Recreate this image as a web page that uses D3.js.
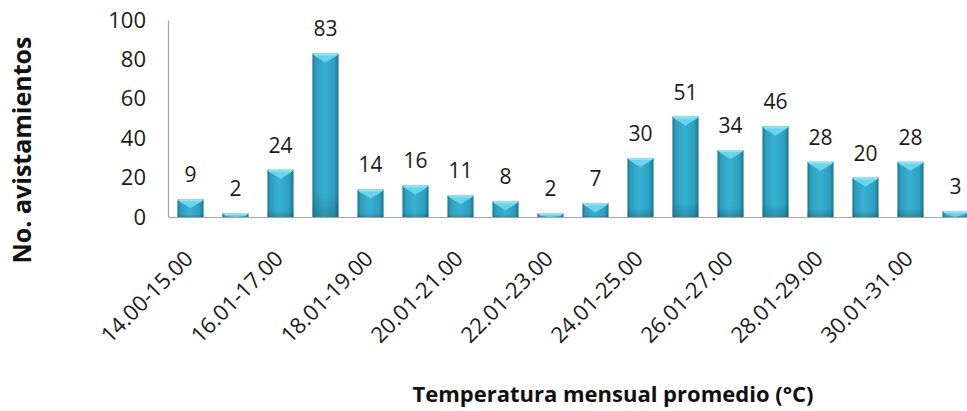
<!DOCTYPE html>
<html>
<head>
<meta charset="utf-8">
<script src="https://cdn.jsdelivr.net/npm/d3@7"></script>
<style>
  html, body { margin: 0; padding: 0; background: #fff; }
  svg { display: block; font-family: "Open Sans", "Noto Sans", sans-serif; }
</style>
</head>
<body>
<svg id="chart" width="967" height="411"></svg>
<script>
// Temperature classes (°C) and number of sightings per class
const categories = [
  "14.00-15.00", "15.01-16.00", "16.01-17.00", "17.01-18.00", "18.01-19.00",
  "19.01-20.00", "20.01-21.00", "21.01-22.00", "22.01-23.00", "23.01-24.00",
  "24.01-25.00", "25.01-26.00", "26.01-27.00", "27.01-28.00", "28.01-29.00",
  "29.01-30.00", "30.01-31.00", "31.01-32.00"
];
const sightings = [9, 2, 24, 83, 14, 16, 11, 8, 2, 7, 30, 51, 34, 46, 28, 20, 28, 3];
const yTicks = [0, 20, 40, 60, 80, 100];
const xTickLabels = categories.filter((d, i) => i % 2 === 0);
const xTitle = "Temperatura mensual promedio (°C)";
const yTitle = "No. avistamientos";

const FONT = '"Open Sans", "Noto Sans", sans-serif';
const svg = d3.select("#chart");
const plotLeft = 168, plotBottom = 217, plotTop = 20, step = 45;

const x = d3.scaleBand()
  .domain(categories)
  .range([plotLeft, plotLeft + step * categories.length])
  .paddingInner(0.42)
  .paddingOuter(0.21);

const y = d3.scaleLinear().domain([0, 100]).range([plotBottom, plotTop]);

// Bar fill: darker edges, lighter centre
const defs = svg.append("defs");
const grad = defs.append("linearGradient").attr("id", "barGrad")
  .attr("x1", "0%").attr("x2", "100%").attr("y1", "0%").attr("y2", "0%");
[["0%", "#1a6f89"], ["10%", "#2b9bba"], ["45%", "#37b2d3"], ["85%", "#2c9fbf"], ["100%", "#1b728c"]]
  .forEach(([o, c]) => grad.append("stop").attr("offset", o).attr("stop-color", c));
const vgrad = defs.append("linearGradient").attr("id", "barShade")
  .attr("x1", "0%").attr("x2", "0%").attr("y1", "0%").attr("y2", "100%");
[["0%", "#ffffff", 0], ["85%", "#000000", 0], ["100%", "#000000", 0.18]]
  .forEach(([o, c, a]) => vgrad.append("stop").attr("offset", o).attr("stop-color", c).attr("stop-opacity", a));

// Axes
const yAxis = d3.axisLeft(y).tickValues(yTicks).tickSize(0).tickPadding(22);
const gy = svg.append("g").attr("transform", `translate(${plotLeft},0)`).call(yAxis)
  .attr("font-family", FONT);
gy.select(".domain").attr("stroke", "#a6a6a6").attr("stroke-width", 1.2);
gy.selectAll("text").attr("font-size", 22).attr("fill", "#1a1a1a");

const xAxis = d3.axisBottom(x).tickValues(xTickLabels).tickSize(0).tickPadding(0);
const gx = svg.append("g").attr("transform", `translate(0,${plotBottom})`).call(xAxis)
  .attr("font-family", FONT);
gx.select(".domain").attr("stroke", "#a6a6a6").attr("stroke-width", 1.2);
gx.selectAll("text")
  .attr("font-size", 22)
  .attr("fill", "#1a1a1a")
  .attr("text-anchor", "end")
  .attr("dy", null)
  .attr("y", 0)
  .attr("transform", "translate(4,43) rotate(-45)");

// Bars
const bars = svg.append("g").selectAll("g.bar")
  .data(categories.map((c, i) => ({ c, v: sightings[i] })))
  .join("g").attr("class", "bar");

bars.append("rect")
  .attr("x", d => x(d.c))
  .attr("y", d => y(d.v))
  .attr("width", x.bandwidth())
  .attr("height", d => y(0) - y(d.v))
  .attr("fill", "url(#barGrad)");

bars.append("rect")
  .attr("x", d => x(d.c))
  .attr("y", d => y(d.v))
  .attr("width", x.bandwidth())
  .attr("height", d => y(0) - y(d.v))
  .attr("fill", "url(#barShade)");

// Bevelled top
bars.append("path")
  .attr("fill", "#6ad4ee")
  .attr("d", d => {
    const x0 = x(d.c), x1 = x0 + x.bandwidth(), t = y(d.v);
    const h = Math.min(9, y(0) - t);
    const cx = (x0 + x1) / 2;
    return `M${x0},${t}L${x1},${t}L${x1 - 3},${t + Math.min(3, h)}L${cx},${t + h}L${x0 + 3},${t + Math.min(3, h)}Z`;
  });
bars.append("path")
  .attr("fill", "#8fe3f5")
  .attr("d", d => {
    const x0 = x(d.c), x1 = x0 + x.bandwidth(), t = y(d.v);
    return `M${x0},${t}L${x1},${t}L${x1 - 2},${t + 2}L${x0 + 2},${t + 2}Z`;
  });

// Value labels
bars.append("text")
  .attr("x", d => x(d.c) + x.bandwidth() / 2)
  .attr("y", d => y(d.v) - 17)
  .attr("text-anchor", "middle")
  .attr("font-size", 21)
  .attr("fill", "#1a1a1a")
  .text(d => d.v);

// Axis titles
svg.append("text")
  .attr("x", 613).attr("y", 402)
  .attr("text-anchor", "middle")
  .attr("font-size", 22).attr("font-weight", "bold").attr("fill", "#111")
  .text(xTitle);

svg.append("text")
  .attr("transform", "translate(31,150) rotate(-90)")
  .attr("text-anchor", "middle")
  .attr("font-size", 25).attr("font-weight", "bold").attr("fill", "#111")
  .text(yTitle);
</script>
</body>
</html>
